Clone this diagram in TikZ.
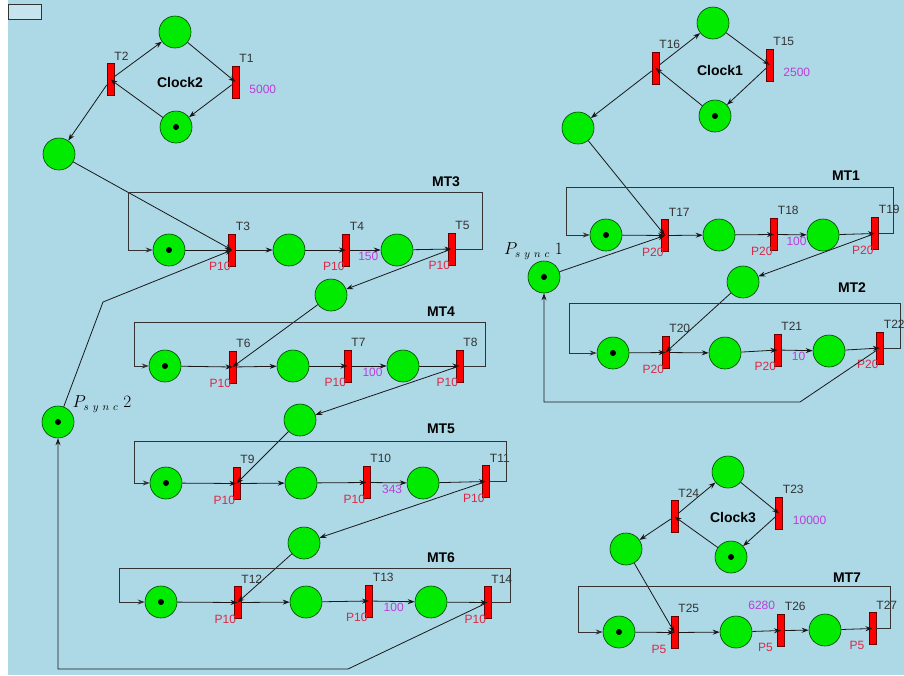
\documentclass[tikz,border=0pt]{standalone}
\usepackage{fontspec}
\setmainfont{Liberation Sans}
\usepackage{xcolor}
\usetikzlibrary{arrows.meta}

\definecolor{bgblue}{RGB}{173,216,230}
\definecolor{placegreen}{RGB}{0,235,0}
\definecolor{prioclr}{RGB}{220,40,70}
\definecolor{delayclr}{RGB}{190,60,220}

\begin{document}
\begin{tikzpicture}[x=1pt, y=-1pt,
    place/.style={circle, draw=green!25!black, fill=placegreen, minimum size=32pt, inner sep=0pt, line width=0.6pt},
    tok/.style={path picture={\fill[black] (path picture bounding box.center) circle (3pt);}},
    transbar/.style={rectangle, draw=red!40!black, fill=red, minimum width=7pt, minimum height=32pt, inner sep=0pt, line width=0.5pt},
    pnarc/.style={-{Stealth[length=7pt,width=5pt]}, line width=0.8pt, draw=black!90},
    backarc/.style={pnarc, draw=black!80, line width=0.9pt},
    tlbl/.style={font=\fontsize{12}{14}\selectfont, text=black!80, inner sep=0pt, anchor=south west, yshift=3pt},
    plbl/.style={font=\fontsize{12}{14}\selectfont, text=prioclr, inner sep=0pt, anchor=north west, xshift=-23pt, yshift=4pt},
    dlbl/.style={font=\fontsize{12}{14}\selectfont, text=delayclr, inner sep=1.5pt},
    clkdelay/.style={dlbl, inner sep=0pt, anchor=west, xshift=10pt, yshift=-7pt},
    grp/.style={font=\fontsize{14}{16}\selectfont\bfseries},
    synclbl/.style={font=\fontsize{16}{18}\selectfont, inner sep=1pt}]
    \useasboundingbox (0,0) rectangle (904,675);
    \fill[bgblue] (8,0) rectangle (904,675);
    \node (tab) [draw=black!80, fill=bgblue!70!white, minimum width=33pt, minimum height=15pt, inner sep=0pt] at (24.5,11.5) {};

    \node (c2top) [place] at (175,32) {};
    \node (c2bot) [place, tok] at (176,127) {};
    \node (c2out) [place] at (59,154) {};
    \node (T2) [transbar, label={[tlbl]north east:T2}] at (110.5,79.5) {};
    \node (T1) [transbar, label={[tlbl]north east:T1}, label={[clkdelay]east:5000}] at (235.5,82) {};
    \node (clk2) [grp] at (180,82) {Clock2};
    \draw [pnarc] (c2top) edge (T1.center);
    \draw [pnarc] (T1) edge (c2bot);
    \draw [pnarc] (c2bot) edge (T2.center);
    \draw [pnarc] (T2) edge (c2top);
    \draw [pnarc] (T2) edge (c2out);

    \node (ps2) [place, tok, label={[synclbl, anchor=south west, xshift=2pt, yshift=-3pt]north east:$P_{s\kern4pt y\kern4pt n\kern4pt c}\kern5pt 2$}] at (58,422) {};
    \coordinate (ps2bend) at (103,302);

    \node (p31) [place, tok] at (169,250) {};
    \node (T3) [transbar, label={[tlbl]north east:T3}, label={[plbl]south:P10}] at (232,250) {};
    \node (p32) [place] at (289,250) {};
    \node (T4) [transbar, label={[tlbl]north east:T4}, label={[plbl]south:P10}] at (346,250) {};
    \node (p33) [place] at (397,250) {};
    \node (T5) [transbar, label={[tlbl]north east:T5}, label={[plbl]south:P10}] at (451.5,249) {};
    \node (mt3) [grp] at (446,182) {MT3};
    \coordinate (mt3nw) at (128,192);
    \coordinate (mt3ne) at (482,192);
    \node (s34) [place] at (331,295) {};
    \draw [pnarc] (c2out) edge (T3.center);
    \draw [pnarc] (p31) edge (T3.center);
    \draw [pnarc] (T3) edge (p32);
    \draw [pnarc] (p32) edge (T4.center);
    \draw [pnarc] (T4) edge node[dlbl, below, pos=0.6] {150} (p33);
    \draw [pnarc] (p33) edge (T5.center);
    \draw [pnarc] (T5) edge (s34);
    \draw [backarc] (T5.east) -- (T5.east -| mt3ne) -- (mt3ne) -- (mt3nw) -- (mt3nw |- p31) -- (p31);
    \draw [pnarc] (ps2) -- (ps2bend) -- (T3.center);

    \node (p41) [place, tok] at (165,366) {};
    \node (T6) [transbar, label={[tlbl]north east:T6}, label={[plbl]south:P10}] at (232.5,367) {};
    \node (p42) [place] at (293,366) {};
    \node (T7) [transbar, label={[tlbl]north east:T7}, label={[plbl]south:P10}] at (347.5,366) {};
    \node (p43) [place] at (403,366) {};
    \node (T8) [transbar, label={[tlbl]north east:T8}, label={[plbl]south:P10}] at (459.5,366) {};
    \node (mt4) [grp] at (441,312) {MT4};
    \coordinate (mt4nw) at (134,322);
    \coordinate (mt4ne) at (485,322);
    \node (s45) [place] at (300,420) {};
    \draw [pnarc] (s34) edge (T6.center);
    \draw [pnarc] (p41) edge (T6.center);
    \draw [pnarc] (T6) edge (p42);
    \draw [pnarc] (p42) edge (T7.center);
    \draw [pnarc] (T7) edge node[dlbl, below, pos=0.6] {100} (p43);
    \draw [pnarc] (p43) edge (T8.center);
    \draw [pnarc] (T8) edge (s45);
    \draw [backarc] (T8.east) -- (T8.east -| mt4ne) -- (mt4ne) -- (mt4nw) -- (mt4nw |- p41) -- (p41);

    \node (p51) [place, tok] at (166,483) {};
    \node (T9) [transbar, label={[tlbl]north east:T9}, label={[plbl]south:P10}] at (236.5,483.5) {};
    \node (p52) [place] at (301,483) {};
    \node (T10) [transbar, label={[tlbl]north east:T10}, label={[plbl]south:P10}] at (366.5,482.5) {};
    \node (p53) [place] at (423,483) {};
    \node (T11) [transbar, label={[tlbl]north east:T11}, label={[plbl]south:P10}] at (486,481.5) {};
    \node (mt5) [grp] at (441,429) {MT5};
    \coordinate (mt5nw) at (134,441);
    \coordinate (mt5ne) at (506,441);
    \node (s56) [place] at (304,543) {};
    \draw [pnarc] (s45) edge (T9.center);
    \draw [pnarc] (p51) edge (T9.center);
    \draw [pnarc] (T9) edge (p52);
    \draw [pnarc] (p52) edge (T10.center);
    \draw [pnarc] (T10) edge node[dlbl, below, pos=0.6] {343} (p53);
    \draw [pnarc] (p53) edge (T11.center);
    \draw [pnarc] (T11) edge (s56);
    \draw [backarc] (T11.east) -- (T11.east -| mt5ne) -- (mt5ne) -- (mt5nw) -- (mt5nw |- p51) -- (p51);

    \node (p61) [place, tok] at (161,602) {};
    \node (T12) [transbar, label={[tlbl]north east:T12}, label={[plbl]south:P10}] at (237.5,602.5) {};
    \node (p62) [place] at (306,602) {};
    \node (T13) [transbar, label={[tlbl]north east:T13}, label={[plbl]south:P10}] at (369,601) {};
    \node (p63) [place] at (431,602) {};
    \node (T14) [transbar, label={[tlbl]north east:T14}, label={[plbl]south:P10}] at (487.5,602.5) {};
    \node (mt6) [grp] at (441,558) {MT6};
    \coordinate (mt6nw) at (119,568);
    \coordinate (mt6ne) at (510,568);
    \coordinate (fb2a) at (348,669);
    \coordinate (fb2b) at (58,669);
    \draw [pnarc] (s56) edge (T12.center);
    \draw [pnarc] (p61) edge (T12.center);
    \draw [pnarc] (T12) edge (p62);
    \draw [pnarc] (p62) edge (T13.center);
    \draw [pnarc] (T13) edge node[dlbl, below, pos=0.5] {100} (p63);
    \draw [pnarc] (p63) edge (T14.center);
    \draw [backarc] (T14.east) -- (T14.east -| mt6ne) -- (mt6ne) -- (mt6nw) -- (mt6nw |- p61) -- (p61);
    \draw [pnarc] (T14) -- (fb2a) -- (fb2b) -- (ps2);

    \node (c1top) [place] at (713,23) {};
    \node (c1bot) [place, tok] at (715,116) {};
    \node (c1out) [place] at (578,128) {};
    \node (T16) [transbar, label={[tlbl]north east:T16}] at (655.5,68) {};
    \node (T15) [transbar, label={[tlbl]north east:T15}, label={[clkdelay]east:2500}] at (769.5,65) {};
    \node (clk1) [grp] at (720,70) {Clock1};
    \draw [pnarc] (c1top) edge (T15.center);
    \draw [pnarc] (T15) edge (c1bot);
    \draw [pnarc] (c1bot) edge (T16.center);
    \draw [pnarc] (T16) edge (c1top);
    \draw [pnarc] (T16) edge (c1out);

    \node (ps1) [place, tok, label={[synclbl, anchor=south, xshift=-10.5pt]north:$P_{s\kern4pt y\kern4pt n\kern4pt c}\kern5pt 1$}] at (544,277) {};

    \node (p11) [place, tok] at (606,235) {};
    \node (T17) [transbar, label={[tlbl]north east:T17}, label={[plbl]south:P20}] at (665,235.5) {};
    \node (p12) [place] at (719,235) {};
    \node (T18) [transbar, label={[tlbl]north east:T18}, label={[plbl]south:P20}] at (774,234.5) {};
    \node (p13) [place] at (823,235) {};
    \node (T19) [transbar, label={[tlbl]north east:T19}, label={[plbl]south:P20}] at (875,233.5) {};
    \node (mt1) [grp] at (846,176) {MT1};
    \coordinate (mt1nw) at (566,187);
    \coordinate (mt1ne) at (893,187);
    \node (s12) [place] at (743,282) {};
    \draw [pnarc] (c1out) edge (T17.center);
    \draw [pnarc] (ps1) edge (T17.center);
    \draw [pnarc] (p11) edge (T17.center);
    \draw [pnarc] (T17) edge (p12);
    \draw [pnarc] (p12) edge (T18.center);
    \draw [pnarc] (T18) edge node[dlbl, below, pos=0.65] {100} (p13);
    \draw [pnarc] (p13) edge (T19.center);
    \draw [pnarc] (T19) edge (s12);
    \draw [backarc] (T19.east) -- (T19.east -| mt1ne) -- (mt1ne) -- (mt1nw) -- (mt1nw |- p11) -- (p11);

    \node (p21) [place, tok] at (613,353) {};
    \node (T20) [transbar, label={[tlbl]north east:T20}, label={[plbl]south:P20}] at (665.5,352.5) {};
    \node (p22) [place] at (725,353) {};
    \node (T21) [transbar, label={[tlbl]north east:T21}, label={[plbl]south:P20}] at (777.5,350) {};
    \node (p23) [place] at (829,351) {};
    \node (T22) [transbar, label={[tlbl]north east:T22}, label={[plbl]south:P20}] at (880,348) {};
    \node (mt2) [grp] at (852,288) {MT2};
    \coordinate (mt2nw) at (569,303);
    \coordinate (mt2ne) at (900,303);
    \coordinate (fb1a) at (800,402);
    \coordinate (fb1b) at (544,402);
    \draw [pnarc] (s12) edge (T20.center);
    \draw [pnarc] (p21) edge (T20.center);
    \draw [pnarc] (T20) edge (p22);
    \draw [pnarc] (p22) edge (T21.center);
    \draw [pnarc] (T21) edge node[dlbl, below, pos=0.55] {10} (p23);
    \draw [pnarc] (p23) edge (T22.center);
    \draw [backarc] (T22.east) -- (T22.east -| mt2ne) -- (mt2ne) -- (mt2nw) -- (mt2nw |- p21) -- (p21);
    \draw [pnarc] (T22) -- (fb1a) -- (fb1b) -- (ps1);

    \node (c3top) [place] at (728,472) {};
    \node (c3bot) [place, tok] at (731,557) {};
    \node (c3out) [place] at (626,549) {};
    \node (T24) [transbar, label={[tlbl]north east:T24}] at (674.5,516.5) {};
    \node (T23) [transbar, label={[tlbl]north east:T23}, label={[clkdelay]east:10000}] at (779,513.5) {};
    \node (clk3) [grp] at (733,517) {Clock3};
    \draw [pnarc] (c3top) edge (T23.center);
    \draw [pnarc] (T23) edge (c3bot);
    \draw [pnarc] (c3bot) edge (T24.center);
    \draw [pnarc] (T24) edge (c3top);
    \draw [pnarc] (T24) edge (c3out);

    \node (p71) [place, tok] at (619,632) {};
    \node (T25) [transbar, label={[tlbl]north east:T25}, label={[plbl]south:P5}] at (674.5,632.5) {};
    \node (p72) [place] at (736,632) {};
    \node (T26) [transbar, label={[tlbl]north east:T26}, label={[plbl]south:P5}, label={[dlbl, inner sep=0pt, anchor=south east, xshift=-2pt, yshift=4pt]north west:6280}] at (781,630.5) {};
    \node (p73) [place] at (825,630) {};
    \node (T27) [transbar, label={[tlbl]north east:T27}, label={[plbl]south:P5}] at (872.5,628.5) {};
    \node (mt7) [grp] at (847,578) {MT7};
    \coordinate (mt7nw) at (578,586);
    \coordinate (mt7ne) at (890,586);
    \draw [pnarc] (c3out) edge (T25.center);
    \draw [pnarc] (p71) edge (T25.center);
    \draw [pnarc] (T25) edge (p72);
    \draw [pnarc] (p72) edge (T26.center);
    \draw [pnarc] (T26) edge (p73);
    \draw [pnarc] (p73) edge (T27.center);
    \draw [backarc] (T27.east) -- (T27.east -| mt7ne) -- (mt7ne) -- (mt7nw) -- (mt7nw |- p71) -- (p71);
  \end{tikzpicture}
\end{document}
